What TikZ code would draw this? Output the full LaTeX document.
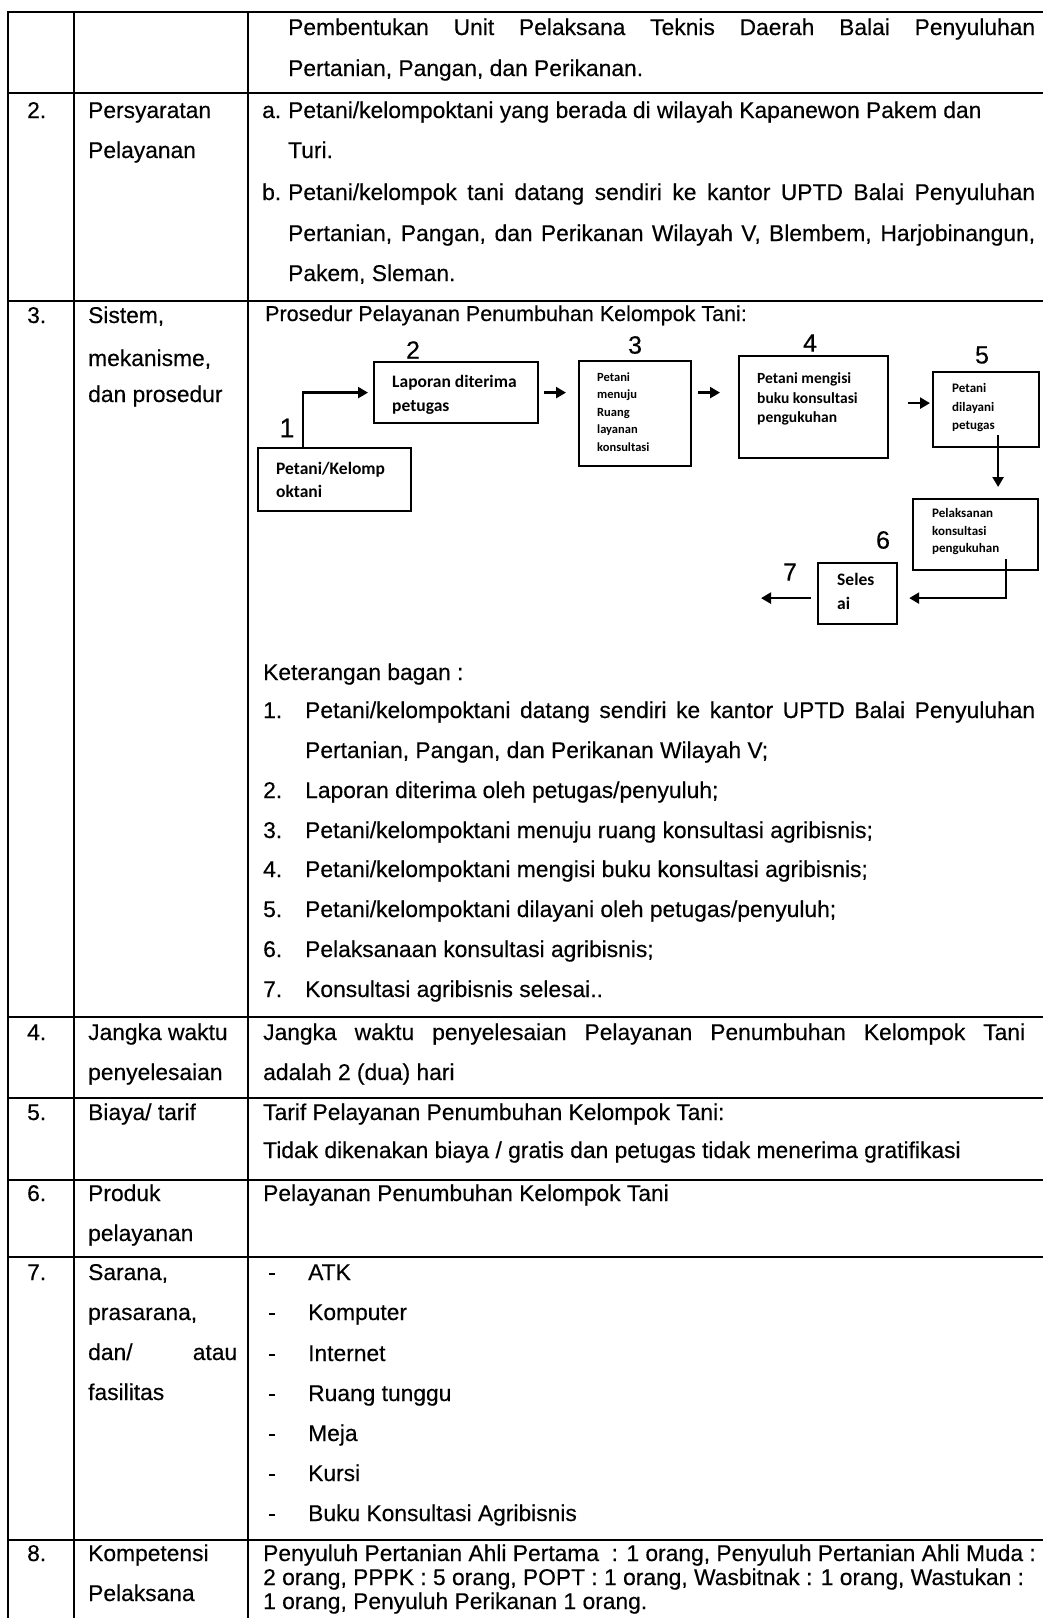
\documentclass[tikz,border=0pt]{standalone}
\usepackage{fontspec}
\setmainfont{Liberation Sans}[FakeBold=0.35]
\newfontfamily\calfont{Carlito}
\usetikzlibrary{arrows.meta,calc}
\begin{document}
\begin{tikzpicture}[x=1pt,y=-1pt,
  rule/.style={line width=2.5pt,line cap=rect},
  body/.style={anchor=base west,inner sep=0pt,font=\fontsize{22.8}{27}\selectfont},
  head/.style={anchor=base west,inner sep=0pt,font=\fontsize{21.5}{26}\selectfont},
  last/.style={anchor=base west,inner sep=0pt,font=\fontsize{22.8}{26}\selectfont},
  fbox/.style={draw,line width=2.2pt,inner sep=0pt,anchor=north west},
  btl/.style={anchor=base west,inner sep=0pt,font=\calfont\bfseries\fontsize{17.5}{21}\selectfont},
  btm/.style={anchor=base west,inner sep=0pt,font=\calfont\bfseries\fontsize{15.5}{19}\selectfont},
  bts/.style={anchor=base west,inner sep=0pt,font=\calfont\bfseries\fontsize{13}{16}\selectfont},
  btx/.style={anchor=base west,inner sep=0pt,font=\calfont\bfseries\fontsize{12.5}{15}\selectfont},
  num/.style={inner sep=0pt,font=\fontsize{25}{30}\selectfont},
  arr/.style={line width=2.4pt,-{Triangle[length=10pt,width=11pt]}}
]
\useasboundingbox (0,0) rectangle (1043,1618);
\fill[white] (0,0) rectangle (1043,1618);

% ---------- table grid ----------
\foreach \xx in {8,74,248} \draw[rule] (\xx,12) -- (\xx,1618);
\foreach \yy in {12,93,301,1017,1098,1180,1257,1540} \draw[rule] (8,\yy) -- (1043,\yy);

% ---------- row 1 ----------
\node[body] (r1l1) at (288,35) {\makebox[747pt][s]{Pembentukan Unit Pelaksana Teknis Daerah Balai Penyuluhan}};
\node[body] (r1l2) at (288,76) {Pertanian, Pangan, dan Perikanan.};

% ---------- row 2 ----------
\node[body] (r2n) at (27,118) {2.};
\node[body] (r2h1) at (88,118) {Persyaratan};
\node[body] (r2h2) at (88,158) {Pelayanan};
\node[body] (r2a) at (262,118) {a.};
\node[body] (r2a1) at (288,118) {Petani/kelompoktani yang berada di wilayah Kapanewon Pakem dan};
\node[body] (r2a2) at (288,158) {Turi.};
\node[body] (r2b) at (262,200) {b.};
\node[body] (r2b1) at (288,200) {\makebox[747pt][s]{Petani/kelompok tani datang sendiri ke kantor UPTD Balai Penyuluhan}};
\node[body] (r2b2) at (288,241) {\makebox[747pt][s]{Pertanian, Pangan, dan Perikanan Wilayah V, Blembem, Harjobinangun,}};
\node[body] (r2b3) at (288,281) {Pakem, Sleman.};

% ---------- row 3 ----------
\node[body] (r3n) at (27,323) {3.};
\node[body] (r3h1) at (88,323) {Sistem,};
\node[body] (r3h2) at (88,366) {mekanisme,};
\node[body] (r3h3) at (88,402) {dan prosedur};
\node[head] (r3t) at (265,321) {Prosedur Pelayanan Penumbuhan Kelompok Tani:};

% flowchart boxes
\node[fbox,minimum width=153pt,minimum height=63pt] (b1) at (257,447) {};
\node[fbox,minimum width=164pt,minimum height=61pt] (b2) at (373,361) {};
\node[fbox,minimum width=112pt,minimum height=105pt] (b3) at (578,360) {};
\node[fbox,minimum width=149pt,minimum height=102pt] (b4) at (738,355) {};
\node[fbox,minimum width=106pt,minimum height=75pt] (b5) at (932,371) {};
\node[fbox,minimum width=125pt,minimum height=71pt] (b6) at (912,498) {};
\node[fbox,minimum width=79pt,minimum height=61pt] (b7) at (817,562) {};

% box texts
\node[btl] (t1a) at (276,474) {Petani/Kelomp};
\node[btl] (t1b) at (276,497) {oktani};
\node[btl] (t2a) at (392,387) {Laporan diterima};
\node[btl] (t2b) at (392,411) {petugas};
\node[btx] (t3a) at (597,381) {Petani};
\node[btx] (t3b) at (597,398.5) {menuju};
\node[btx] (t3c) at (597,416) {Ruang};
\node[btx] (t3d) at (597,433.5) {layanan};
\node[btx] (t3e) at (597,451) {konsultasi};
\node[btm] (t4a) at (757,383) {Petani mengisi};
\node[btm] (t4b) at (757,403) {buku konsultasi};
\node[btm] (t4c) at (757,422) {pengukuhan};
\node[bts] (t5a) at (952,392) {Petani};
\node[bts] (t5b) at (952,411) {dilayani};
\node[bts] (t5c) at (952,429) {petugas};
\node[bts] (t6a) at (932,517) {Pelaksanan};
\node[bts] (t6b) at (932,535) {konsultasi};
\node[bts] (t6c) at (932,552) {pengukuhan};
\node[btl] (t7a) at (837,585) {Seles};
\node[btl] (t7b) at (837,609) {ai};

% step numbers
\node[num,font=\fontsize{27}{32}\selectfont] (n1) at (287,428) {1};
\node[num] (n2) at (413,350) {2};
\node[num] (n3) at (635,345) {3};
\node[num] (n4) at (810,343) {4};
\node[num] (n5) at (982,355) {5};
\node[num] (n6) at (883,540) {6};
\node[num] (n7) at (790,572) {7};

% connectors
\draw[arr] ($(b1.north west)+(46,0)$) |- ($(b2.west)+(-5,0)$);
\draw[arr] ($(b2.east)+(5,0)$) -- ($(b3.west|-b2.east)+(-12,0)$);
\draw[arr] ($(b3.east|-b2.east)+(6,0)$) -- ($(b4.west|-b2.east)+(-18,0)$);
\draw[arr] ($(b4.east)+(19,-4)$) -- ($(b5.west|-b4.east)+(-2,-4)$);
\draw[arr] ($(b5.south)+(12,-13)$) -- ($(b6.north)+(22.5,-11)$);
\draw[arr] ($(b6.south)+(30.5,-12)$) |- ($(b7.east)+(11,4.5)$);
\coordinate (endseven) at ($(b7.west)+(-56,4.5)$);
\draw[arr] ($(b7.west)+(-6,4.5)$) -- (endseven);

% legend
\node[body] (kb) at (263,680) {Keterangan bagan :};
\node[body] (k1n) at (263,718) {1.};
\node[body] (k1a) at (305,718) {\makebox[730pt][s]{Petani/kelompoktani datang sendiri ke kantor UPTD Balai Penyuluhan}};
\node[body] (k1b) at (305,758) {Pertanian, Pangan, dan Perikanan Wilayah V;};
\node[body] (k2n) at (263,798) {2.};
\node[body] (k2) at (305,798) {Laporan diterima oleh petugas/penyuluh;};
\node[body] (k3n) at (263,838) {3.};
\node[body] (k3) at (305,838) {Petani/kelompoktani menuju ruang konsultasi agribisnis;};
\node[body] (k4n) at (263,877) {4.};
\node[body] (k4) at (305,877) {Petani/kelompoktani mengisi buku konsultasi agribisnis;};
\node[body] (k5n) at (263,917) {5.};
\node[body] (k5) at (305,917) {Petani/kelompoktani dilayani oleh petugas/penyuluh;};
\node[body] (k6n) at (263,957) {6.};
\node[body] (k6) at (305,957) {Pelaksanaan konsultasi agribisnis;};
\node[body] (k7n) at (263,997) {7.};
\node[body] (k7) at (305,997) {Konsultasi agribisnis selesai..};

% ---------- row 4 ----------
\node[body] (r4n) at (27,1040) {4.};
\node[body] (r4h1) at (88,1040) {Jangka waktu};
\node[body] (r4h2) at (88,1080) {penyelesaian};
\node[body] (r4a) at (263,1040) {\makebox[762pt][s]{Jangka waktu penyelesaian Pelayanan Penumbuhan Kelompok Tani}};
\node[body] (r4b) at (263,1080) {adalah 2 (dua) hari};

% ---------- row 5 ----------
\node[body] (r5n) at (27,1120) {5.};
\node[body] (r5h) at (88,1120) {Biaya/ tarif};
\node[body] (r5a) at (263,1120) {Tarif Pelayanan Penumbuhan Kelompok Tani:};
\node[body] (r5b) at (263,1158) {Tidak dikenakan biaya / gratis dan petugas tidak menerima gratifikasi};

% ---------- row 6 ----------
\node[body] (r6n) at (27,1201) {6.};
\node[body] (r6h1) at (88,1201) {Produk};
\node[body] (r6h2) at (88,1241) {pelayanan};
\node[body] (r6a) at (263,1201) {Pelayanan Penumbuhan Kelompok Tani};

% ---------- row 7 ----------
\node[body] (r7n) at (27,1280) {7.};
\node[body] (r7h1) at (88,1280) {Sarana,};
\node[body] (r7h2) at (88,1320) {prasarana,};
\node[body] (r7h3) at (88,1360) {\makebox[149pt][s]{dan/ atau}};
\node[body] (r7h4) at (88,1400) {fasilitas};
\foreach \yy/\item [count=\i] in {1280/ATK,1320/Komputer,1361/Internet,1401/Ruang tunggu,1441/Meja,1481/Kursi,1521/Buku Konsultasi Agribisnis}{
  \node[body] (d\i) at (268,\yy) {-};
  \node[body] (i\i) at (308,\yy) {\item};
}

% ---------- row 8 ----------
\node[body] (r8n) at (27,1561) {8.};
\node[body] (r8h1) at (88,1561) {Kompetensi};
\node[body] (r8h2) at (88,1601) {Pelaksana};
\node[last] (r8a) at (263,1561) {Penyuluh Pertanian Ahli Pertama\ \ : 1 orang, Penyuluh Pertanian Ahli Muda :};
\node[last] (r8b) at (263,1585) {2 orang, PPPK : 5 orang, POPT : 1 orang, Wasbitnak : 1 orang, Wastukan :};
\node[last] (r8c) at (263,1609) {1 orang, Penyuluh Perikanan 1 orang.};
\end{tikzpicture}
\end{document}
